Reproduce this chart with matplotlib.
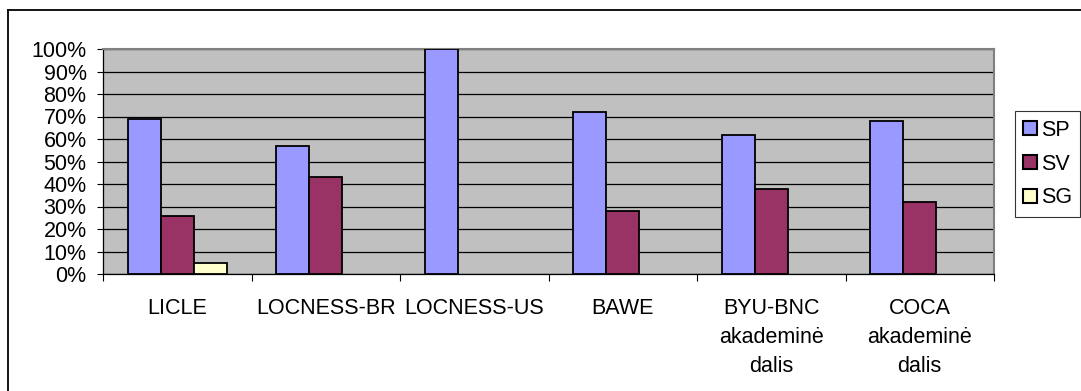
import numpy as np
import matplotlib.pyplot as plt
from matplotlib.lines import Line2D

plt.rcParams['font.family'] = ['Liberation Sans', 'DejaVu Sans']

categories = ['LICLE', 'LOCNESS-BR', 'LOCNESS-US', 'BAWE',
              'BYU-BNC\nakademinė\ndalis', 'COCA\nakademinė\ndalis']
sp_vals = [69, 57, 100, 72, 62, 68]
sv_vals = [26, 43, 0, 28, 38, 32]
sg_vals = [5, 0, 0, 0, 0, 0]
series = ['SP', 'SV', 'SG']
colors = ['#9999FF', '#993366', '#FFFFCC']

fs = 15.5
W, H = 1081, 391
fig = plt.figure(figsize=(W / 100, H / 100), dpi=100)
ax = fig.add_axes([103 / W, (H - 274) / H, (994 - 103) / W, (274 - 49) / H])
ax.set_facecolor('#C0C0C0')

x = np.arange(len(categories))
w = 1 / 4.5
for k, (vals, c) in enumerate(zip([sp_vals, sv_vals, sg_vals], colors)):
    vals = np.array(vals, dtype=float)
    mask = vals > 0
    ax.bar(x[mask] + (k - 1) * w, vals[mask], width=w, color=c,
           edgecolor='black', linewidth=1.3, zorder=3)

ax.set_xlim(-0.5, len(categories) - 0.5)
ax.set_ylim(0, 100)
ax.set_yticks(np.arange(0, 101, 10))
ax.set_yticklabels([f'{v}%' for v in range(0, 101, 10)], fontsize=fs)
ax.yaxis.grid(True, color='black', linewidth=0.9, zorder=1)
ax.set_axisbelow(True)

ax.set_xticks(x)
ax.set_xticklabels(categories, fontsize=fs, linespacing=1.5, va='top')
ax.tick_params(axis='x', length=0, pad=17)
ax.set_xticks(np.arange(-0.5, len(categories), 1), minor=True)
ax.tick_params(axis='x', which='minor', length=5, width=0.8, direction='out')
ax.tick_params(axis='y', length=4.3, width=0.8, pad=7.5)

for s in ['top', 'right']:
    ax.spines[s].set_color('#808080')
    ax.spines[s].set_linewidth(1.5)
for s in ['left', 'bottom']:
    ax.spines[s].set_color('black')
    ax.spines[s].set_linewidth(0.9)

handles = [Line2D([], [], marker='s', linestyle='none', markersize=9.5,
                  markerfacecolor=c, markeredgecolor='black', markeredgewidth=1.5)
           for c in colors]
leg = fig.legend(handles, series, loc='upper left', mode='expand',
                 bbox_to_anchor=(1015 / W, 1 - 211 / H, 65 / W, 100 / H), fontsize=fs,
                 frameon=True, fancybox=False, edgecolor='black',
                 handlelength=0.6, handletextpad=0.2, labelspacing=0.6,
                 borderpad=0.4, borderaxespad=0)
leg.get_frame().set_linewidth(0.8)

# outer chart border (left and top edges visible)
fig.add_artist(Line2D([8 / W, 8 / W], [0, 1 - 10 / H], transform=fig.transFigure,
                      color='black', linewidth=1.3))
fig.add_artist(Line2D([8 / W, 1], [1 - 10 / H, 1 - 10 / H], transform=fig.transFigure,
                      color='black', linewidth=1.3))

fig.savefig('out.png', dpi=100)
